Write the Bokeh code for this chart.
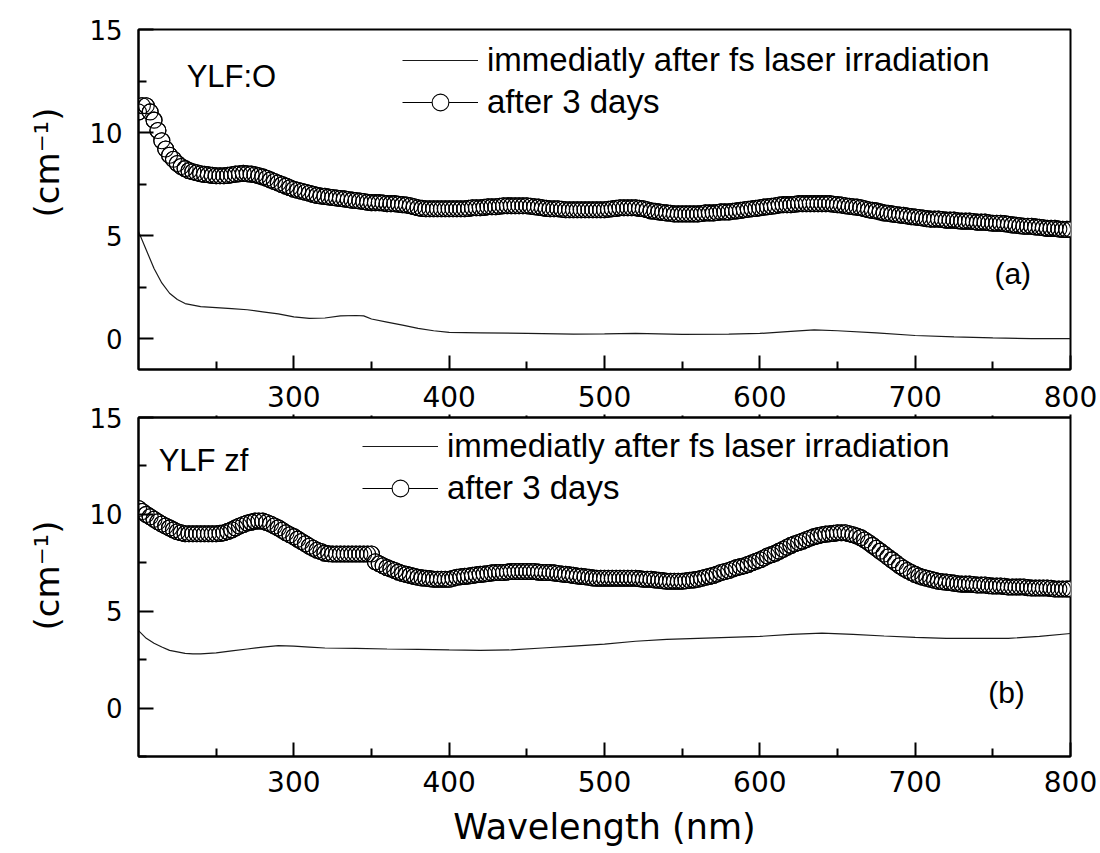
from bokeh.plotting import figure
from bokeh.layouts import column
from bokeh.models import FixedTicker, LinearAxis, Range1d, Label, Legend, LegendItem, Title
from bokeh.embed import file_html
from bokeh.resources import INLINE

# ---------------- data ----------------
# "after 3 days" curves are read every 2.5 nm from 200 to 800 nm
wl_days = [200 + 2.5 * i for i in range(241)]

a_days = [11.0, 11.3, 11.3, 11.0, 10.6, 10.1, 9.6, 9.2, 8.9, 8.7,        # 200-222.5
          8.5, 8.35, 8.25, 8.15, 8.1, 8.05, 8.0, 7.97, 7.95, 7.92,       # 225-247.5
          7.9, 7.9, 7.9, 7.92, 7.95, 7.98, 8.0, 8.02, 8.0, 7.98,         # 250-272.5
          7.95, 7.9, 7.85, 7.78, 7.7, 7.62, 7.55, 7.47, 7.4, 7.32,       # 275-297.5
          7.25, 7.2, 7.15, 7.1, 7.05, 7.0, 6.95, 6.92, 6.9, 6.87,        # 300-322.5
          6.85, 6.82, 6.8, 6.78, 6.75, 6.72, 6.7, 6.68, 6.65, 6.62,      # 325-347.5
          6.6, 6.6, 6.6, 6.58, 6.55, 6.55, 6.55, 6.52, 6.5, 6.48,        # 350-372.5
          6.45, 6.4, 6.35, 6.32, 6.3, 6.3, 6.3, 6.3, 6.3, 6.3,           # 375-397.5
          6.3, 6.3, 6.3, 6.3, 6.3, 6.32, 6.35, 6.35, 6.35, 6.37,         # 400-422.5
          6.4, 6.4, 6.4, 6.42, 6.45, 6.45, 6.45, 6.45, 6.45, 6.45,       # 425-447.5
          6.45, 6.42, 6.4, 6.38, 6.35, 6.32, 6.3, 6.3, 6.3, 6.28,        # 450-472.5
          6.25, 6.25, 6.25, 6.25, 6.25, 6.25, 6.25, 6.25, 6.25, 6.25,    # 475-497.5
          6.25, 6.28, 6.3, 6.32, 6.35, 6.35, 6.35, 6.35, 6.35, 6.32,     # 500-522.5
          6.3, 6.25, 6.2, 6.18, 6.15, 6.12, 6.1, 6.08, 6.05, 6.05,       # 525-547.5
          6.05, 6.05, 6.05, 6.05, 6.05, 6.07, 6.1, 6.1, 6.1, 6.12,       # 550-572.5
          6.15, 6.15, 6.15, 6.18, 6.2, 6.22, 6.25, 6.28, 6.3, 6.32,      # 575-597.5
          6.35, 6.38, 6.4, 6.42, 6.45, 6.48, 6.5, 6.5, 6.5, 6.52,        # 600-622.5
          6.55, 6.55, 6.55, 6.55, 6.55, 6.55, 6.55, 6.55, 6.55, 6.52,    # 625-647.5
          6.5, 6.48, 6.45, 6.42, 6.4, 6.38, 6.35, 6.3, 6.25, 6.22,       # 650-672.5
          6.2, 6.15, 6.1, 6.08, 6.05, 6.02, 6.0, 5.98, 5.95, 5.92,       # 675-697.5
          5.9, 5.88, 5.85, 5.82, 5.8, 5.8, 5.8, 5.78, 5.75, 5.75,        # 700-722.5
          5.75, 5.72, 5.7, 5.7, 5.7, 5.68, 5.65, 5.65, 5.65, 5.62,       # 725-747.5
          5.6, 5.6, 5.6, 5.58, 5.55, 5.52, 5.5, 5.48, 5.45, 5.45,        # 750-772.5
          5.45, 5.42, 5.4, 5.38, 5.35, 5.35, 5.35, 5.32, 5.3, 5.3,       # 775-797.5
          5.3]                                                           # 800

b_days = [10.3, 10.15, 10.0, 9.88, 9.75, 9.62, 9.5, 9.4, 9.3, 9.2,       # 200-222.5
          9.1, 9.05, 9.0, 9.0, 9.0, 9.0, 9.0, 9.0, 9.0, 9.0,             # 225-247.5
          9.0, 9.02, 9.05, 9.12, 9.2, 9.3, 9.4, 9.48, 9.55, 9.6,         # 250-272.5
          9.65, 9.66, 9.65, 9.58, 9.5, 9.4, 9.3, 9.18, 9.05, 8.95,       # 275-297.5
          8.85, 8.72, 8.6, 8.48, 8.35, 8.25, 8.15, 8.08, 8.0, 7.97,      # 300-322.5
          7.95, 7.95, 7.95, 7.95, 7.95, 7.95, 7.95, 7.95, 7.95, 7.95,    # 325-347.5
          7.95, 7.55, 7.45, 7.35, 7.25, 7.18, 7.1, 7.02, 6.95, 6.9,      # 350-372.5
          6.85, 6.8, 6.75, 6.72, 6.7, 6.68, 6.65, 6.65, 6.65, 6.65,      # 375-397.5
          6.65, 6.7, 6.75, 6.78, 6.8, 6.82, 6.85, 6.88, 6.9, 6.92,       # 400-422.5
          6.95, 6.98, 7.0, 7.0, 7.0, 7.02, 7.05, 7.05, 7.05, 7.05,       # 425-447.5
          7.05, 7.05, 7.05, 7.02, 7.0, 7.0, 7.0, 6.98, 6.95, 6.92,       # 450-472.5
          6.9, 6.88, 6.85, 6.82, 6.8, 6.78, 6.75, 6.72, 6.7, 6.7,        # 475-497.5
          6.7, 6.7, 6.7, 6.7, 6.7, 6.7, 6.7, 6.7, 6.7, 6.68,             # 500-522.5
          6.65, 6.65, 6.65, 6.62, 6.6, 6.58, 6.55, 6.55, 6.55, 6.55,     # 525-547.5
          6.55, 6.57, 6.6, 6.62, 6.65, 6.7, 6.75, 6.8, 6.85, 6.92,       # 550-572.5
          7.0, 7.05, 7.1, 7.18, 7.25, 7.3, 7.35, 7.42, 7.5, 7.58,        # 575-597.5
          7.65, 7.75, 7.85, 7.92, 8.0, 8.1, 8.2, 8.3, 8.4, 8.48,         # 600-622.5
          8.55, 8.62, 8.7, 8.78, 8.85, 8.9, 8.95, 8.98, 9.0, 9.02,       # 625-647.5
          9.05, 9.05, 9.05, 9.0, 8.95, 8.88, 8.8, 8.68, 8.55, 8.4,       # 650-672.5
          8.25, 8.1, 7.95, 7.8, 7.65, 7.5, 7.35, 7.22, 7.1, 7.0,         # 675-697.5
          6.9, 6.82, 6.75, 6.7, 6.65, 6.6, 6.55, 6.52, 6.5, 6.48,        # 700-722.5
          6.45, 6.42, 6.4, 6.4, 6.4, 6.38, 6.35, 6.35, 6.35, 6.32,       # 725-747.5
          6.3, 6.3, 6.3, 6.28, 6.25, 6.25, 6.25, 6.25, 6.25, 6.22,       # 750-772.5
          6.2, 6.2, 6.2, 6.2, 6.2, 6.18, 6.15, 6.15, 6.15, 6.15,         # 775-797.5
          6.15]                                                          # 800

a_imm_wl = [200, 205, 210, 215, 220, 225, 230, 240, 250, 260, 270, 280, 290,
            300, 310, 320, 330, 340, 345, 350, 360, 370, 380, 390, 400, 420,
            450, 480, 500, 520, 550, 580, 600, 620, 635, 650, 675, 700, 725,
            750, 775, 800]
a_imm = [5.2, 4.3, 3.4, 2.7, 2.2, 1.9, 1.7, 1.55, 1.5, 1.45, 1.4, 1.3, 1.2,
         1.05, 0.98, 1.0, 1.1, 1.12, 1.1, 0.95, 0.8, 0.65, 0.5, 0.38, 0.3, 0.28,
         0.25, 0.22, 0.23, 0.25, 0.2, 0.22, 0.25, 0.35, 0.42, 0.38, 0.28, 0.15, 0.08,
         0.03, 0.0, 0.0]

b_imm_wl = [200, 205, 210, 215, 220, 225, 230, 235, 240, 250, 260, 270, 280,
            290, 300, 310, 320, 340, 360, 380, 400, 420, 440, 460, 480, 500,
            520, 540, 560, 580, 600, 620, 640, 660, 680, 700, 720, 740, 760,
            780, 800]
b_imm = [4.0, 3.6, 3.35, 3.15, 2.98, 2.9, 2.82, 2.8, 2.8, 2.85, 2.95, 3.05, 3.15,
         3.22, 3.2, 3.15, 3.1, 3.08, 3.05, 3.03, 3.0, 2.98, 3.0, 3.1, 3.2, 3.3,
         3.45, 3.55, 3.6, 3.65, 3.7, 3.8, 3.87, 3.8, 3.72, 3.65, 3.6, 3.6, 3.6,
         3.7, 3.85]

x_ticks = [300, 400, 500, 600, 700, 800]
x_minor = [250, 350, 450, 550, 650, 750]
y_ticks = [0, 5, 10, 15]
y_minor = [-2.5, 2.5, 7.5, 12.5]

legend_labels = ["immediatly after fs laser irradiation", "after 3 days"]
panel_names = ["YLF:O", "YLF zf"]
panel_tags = ["(a)", "(b)"]
y_title = "(cm\u207b\u00b9)"
x_title = "Wavelength (nm)"

TICK_FONT = "DejaVu Sans"
TEXT_FONT = "Liberation Sans"


def style_axis(ax, ticks, minor, tick_in, minor_in, tick_out, minor_out,
               label_size, standoff, show_labels=True):
    ax.ticker = FixedTicker(ticks=ticks, minor_ticks=minor)
    ax.major_tick_in = tick_in
    ax.minor_tick_in = minor_in
    ax.major_tick_out = tick_out
    ax.minor_tick_out = minor_out
    ax.axis_line_width = 2
    ax.axis_line_color = "black"
    ax.major_tick_line_width = 2
    ax.minor_tick_line_width = 2
    ax.major_tick_line_color = "black"
    ax.minor_tick_line_color = "black"
    ax.major_label_text_font = TICK_FONT
    ax.major_label_text_font_size = label_size
    ax.major_label_text_color = "black" if show_labels else None
    ax.major_label_standoff = standoff


def make_panel(idx, height, ymin, border_top, border_bottom):
    p = figure(width=1100, height=height,
               x_range=Range1d(200, 800), y_range=Range1d(ymin, 15),
               output_backend="svg", toolbar_location=None,
               min_border_left=138, min_border_right=30,
               min_border_top=border_top, min_border_bottom=border_bottom)
    p.xgrid.grid_line_color = None
    p.ygrid.grid_line_color = None
    p.outline_line_color = "black"
    p.outline_line_width = 2
    p.background_fill_color = "white"
    p.border_fill_color = "white"

    bottom_ax = p.below[0]
    if idx == 0:
        style_axis(bottom_ax, x_ticks, x_minor, 14, 8, 0, 0, "28px", 0, show_labels=False)
    else:
        style_axis(bottom_ax, x_ticks, x_minor, 14, 8, 0, 0, "28px", 14)
        bottom_ax.axis_label = x_title
        bottom_ax.axis_label_text_font = TICK_FONT
        bottom_ax.axis_label_text_font_size = "35px"
        bottom_ax.axis_label_text_font_style = "normal"
        bottom_ax.axis_label_text_color = "black"
        bottom_ax.axis_label_standoff = 12
        # tick labels of the upper panel sit on top of this panel
        top_ax = LinearAxis()
        p.add_layout(top_ax, "above")
        style_axis(top_ax, x_ticks, x_minor, 0, 0, 3, 2, "28px", 8)

    left_ax = p.left[0]
    style_axis(left_ax, y_ticks, y_minor, 15, 8, 0, 0, "26px", 16)
    return p


p1 = make_panel(0, 372, -1.5, 29, 3)
p2 = make_panel(1, 481, -2.5, 45, 97)

series = [(p1, a_imm_wl, a_imm, a_days), (p2, b_imm_wl, b_imm, b_days)]
legend_locs = [(264, 246), (224, 247)]
name_pos = [(231, 12.7), (213, 12.8)]
tag_pos = [(751, 3.15), (747, 0.82)]
ytitle_offset = [78, 103]

for i, (p, wl_i, v_i, v_d) in enumerate(series):
    r_imm = p.line(wl_i, v_i, line_color="#1a1a1a", line_width=1.2)
    r_dline = p.line(wl_days, v_d, line_color="black", line_width=1)
    r_white = p.scatter(wl_days, v_d, marker="circle", size=16,
                        fill_color="white", line_color="black", line_width=1.1)
    p.scatter(wl_days, v_d, marker="circle", size=16,
              fill_color=None, line_color="black", line_width=1.1)

    leg = Legend(items=[LegendItem(label=legend_labels[0], renderers=[r_imm]),
                        LegendItem(label=legend_labels[1], renderers=[r_dline, r_white])],
                 location=legend_locs[i], glyph_width=76, glyph_height=42,
                 label_standoff=9, spacing=0, padding=0, margin=0,
                 border_line_color=None, background_fill_alpha=0,
                 label_text_font=TEXT_FONT, label_text_font_size="33px",
                 label_text_color="black")
    p.add_layout(leg)

    p.add_layout(Label(x=name_pos[i][0], y=name_pos[i][1], text=panel_names[i],
                       text_font=TEXT_FONT, text_font_size="31px", text_color="black",
                       text_baseline="alphabetic", text_align="left"))
    p.add_layout(Label(x=tag_pos[i][0], y=tag_pos[i][1], text=panel_tags[i],
                       text_font=TEXT_FONT, text_font_size="30px", text_color="black",
                       text_baseline="alphabetic", text_align="left"))

    t = Title(text=y_title, align="right", offset=ytitle_offset[i],
              text_font=TICK_FONT, text_font_size="34px",
              text_font_style="normal", text_color="black")
    if "standoff" in t.properties():
        t.standoff = 40
    p.add_layout(t, "left")

layout = column(p1, p2, spacing=0)
open("out.html", "w").write(file_html(layout, INLINE))
